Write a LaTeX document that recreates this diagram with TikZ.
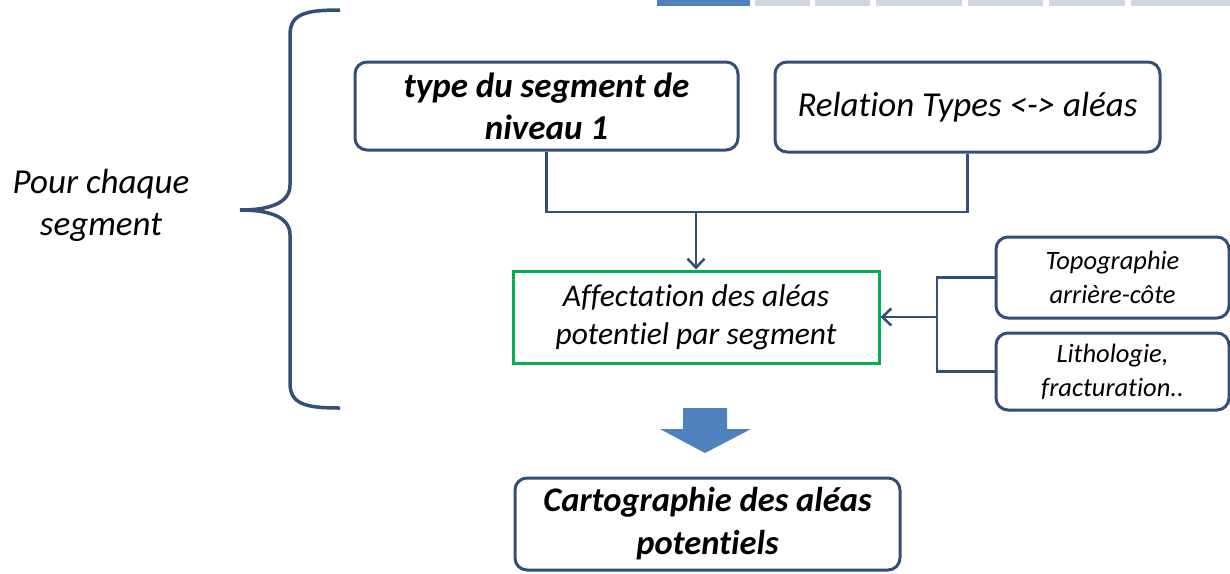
\documentclass[tikz,border=0pt]{standalone}
\usepackage{fontspec}
\setmainfont{Carlito}[Ligatures=NoCommon]
\usetikzlibrary{arrows.meta}
\definecolor{boxblue}{RGB}{52,78,122}
\definecolor{boxgreen}{RGB}{0,176,80}
\definecolor{arrowblue}{RGB}{79,129,189}
\definecolor{tabgray}{RGB}{208,214,228}
\begin{document}
\begin{tikzpicture}[x=1pt,y=-1pt]

\tikzset{box/.style = {shape=rectangle,draw=boxblue,line width=3pt,rounded corners=12pt,align=center,inner sep=0pt}}
\tikzset{edge/.style = {draw=boxblue,line width=2.5pt}}
\tikzset{arrow/.style = {edge,-{Straight Barb[length=9pt,width=17pt,line width=2.5pt]}}}
\useasboundingbox (0,0) rectangle (1230,573);
%tabs
\fill[arrowblue] (657,0) rectangle (750,6);
\foreach \a/\b in {755/810,815/870,876/962,968/1043,1049/1125,1131/1230}
  \fill[tabgray] (\a,0) rectangle (\b,6);
%brace
\draw[boxblue,line width=3.5pt] (340,10) .. controls (305,10) and (290,14) .. (290,35)
  -- (290,185) .. controls (290,203) and (270,210) .. (240,210)
  .. controls (270,210) and (290,217) .. (290,235)
  -- (290,383) .. controls (290,404) and (305,408) .. (340,408);
\node[align=center,font=\fontsize{35}{42}\selectfont\itshape] (pour) at (101,205) {Pour chaque\\segment};
%boxes
\node[box,minimum width=383pt,minimum height=88pt,font=\fontsize{35}{42}\selectfont\bfseries\itshape] (type) at (546.5,106) {type du segment de\\niveau 1};
\node[box,minimum width=385pt,minimum height=90pt,font=\fontsize{35}{40}\selectfont\itshape] (rel) at (967.5,107) {Relation Types <-> aléas};
\node[box,rounded corners=0pt,draw=boxgreen,minimum width=366pt,minimum height=92pt,font=\fontsize{31.5}{38}\selectfont\itshape] (aff) at (696,317) {Affectation des aléas\\potentiel par segment};
\node[box,minimum width=233pt,minimum height=81pt,font=\fontsize{26.5}{34}\selectfont\itshape] (topo) at (1112.5,277.5) {Topographie\\arrière-côte};
\node[box,minimum width=233pt,minimum height=77pt,font=\fontsize{26.5}{34}\selectfont\itshape] (litho) at (1112.5,371.5) {Lithologie,\\fracturation..};
\node[box,minimum width=385pt,minimum height=92pt,font=\fontsize{34.5}{43}\selectfont\bfseries\itshape] (carto) at (707.5,524) {Cartographie des aléas\\potentiels};
%edges
\coordinate (join) at (aff.north |- 0,212);
\coordinate (fork) at (937,317);
\path[edge] (type.south) |- (rel.south |- join) -- (rel.south);
\path[arrow] (join) -- (aff.north);
\path[edge] (topo.west) -| (fork) |- (litho.west);
\path[arrow] (fork) -- (aff.east);
%big arrow
\fill[arrowblue] (683,408) -- (727,408) -- (727,429) -- (751,429) -- (705,453)
  -- (660,429) -- (683,429) -- cycle;

\end{tikzpicture}
\end{document}
